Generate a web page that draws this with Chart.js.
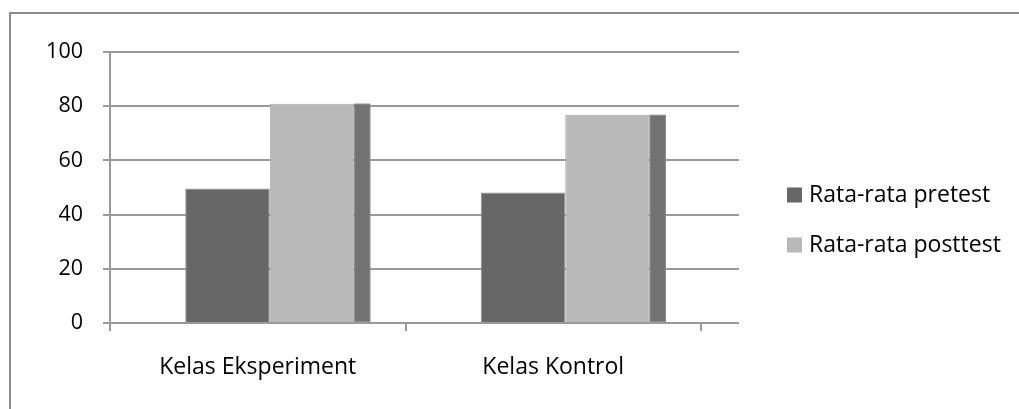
<!DOCTYPE html>
<html>
<head>
<meta charset="utf-8">
<script src="https://cdn.jsdelivr.net/npm/chart.js@4.4.1/dist/chart.umd.min.js"></script>
<style>
  html, body { margin: 0; padding: 0; background: #ffffff; overflow: hidden; }
  #wrap { position: relative; width: 1019px; height: 409px; }
  #frame {
    position: absolute; left: 9px; top: 12px; width: 1100px; height: 500px;
    border-left: 2px solid #8a8a8a; border-top: 2px solid #8a8a8a; box-sizing: border-box;
  }
  #c { position: absolute; left: 0; top: 0; }
</style>
</head>
<body>
<div id="wrap">
  <div id="frame"></div>
  <canvas id="c" width="1019" height="409"></canvas>
</div>
<script>
// Average scores per class
const categories = ['Kelas Eksperiment', 'Kelas Kontrol'];
const seriesNames = ['Rata-rata pretest', 'Rata-rata posttest'];
const pretestValues = [49.6, 48.2];
const posttestValues = [80.9, 76.8];
const yTickValues = [0, 20, 40, 60, 80, 100];

const FONT = '"Open Sans", Lato, sans-serif';
const LABEL_SIZE = 23;
const TICK_SIZE = 21.5;
const GRID = '#9a9a9a';
const DEPTH = 38;       // back-wall depth of the pseudo 3D columns
const SHIFT = 12;       // front faces sit a little right of the category centre
const SIDE = 16;        // visible side face of the front column

const fills = ['#676767', '#b9b9b9'];
const borders = ['#8e8e8e', '#a9a9a9'];

const depthPlugin = {
  id: 'depth',
  beforeDatasetsDraw(chart) {
    const { ctx, chartArea } = chart;
    const y = chart.scales.y;
    ctx.save();
    ctx.strokeStyle = GRID;
    ctx.lineWidth = 2;
    y.ticks.forEach(t => {
      const py = Math.round(y.getPixelForValue(t.value));
      ctx.beginPath();
      ctx.moveTo(chartArea.left, py);
      ctx.lineTo(chartArea.right + DEPTH, py);
      ctx.stroke();
    });
    ctx.restore();
    ctx.save();
    ctx.translate(SHIFT, 0);
  },
  afterDatasetsDraw(chart) {
    const { ctx } = chart;
    const last = chart.getDatasetMeta(chart.data.datasets.length - 1);
    last.data.forEach(el => {
      const p = el.getProps(['x', 'y', 'base', 'width'], true);
      const right = p.x + p.width / 2;
      ctx.fillStyle = '#727272';
      ctx.fillRect(right, p.y, SIDE, p.base - p.y);
      ctx.strokeStyle = '#8a8a8a';
      ctx.lineWidth = 1;
      ctx.strokeRect(right + 0.5, p.y + 0.5, SIDE - 1, p.base - p.y - 1);
    });
    ctx.restore();
  }
};

const legendPlugin = {
  id: 'sideLegend',
  afterDraw(chart) {
    const { ctx } = chart;
    const x0 = 787, y0 = 195, step = 50, box = 15;
    ctx.save();
    ctx.font = LABEL_SIZE + 'px ' + FONT;
    ctx.textBaseline = 'middle';
    ctx.textAlign = 'left';
    chart.data.datasets.forEach((ds, i) => {
      const cy = y0 + i * step;
      ctx.fillStyle = ds.backgroundColor;
      ctx.fillRect(x0, cy - box / 2, box, box);
      ctx.fillStyle = '#000000';
      ctx.fillText(ds.label, x0 + box + 7, cy);
    });
    ctx.restore();
  }
};

new Chart(document.getElementById('c'), {
  type: 'bar',
  data: {
    labels: categories,
    datasets: [
      { label: seriesNames[0], data: pretestValues, backgroundColor: fills[0], borderColor: borders[0], borderWidth: 1 },
      { label: seriesNames[1], data: posttestValues, backgroundColor: fills[1], borderColor: borders[1], borderWidth: 1 }
    ]
  },
  options: {
    responsive: false,
    animation: false,
    devicePixelRatio: 1,
    layout: { padding: { left: 0, top: 52, right: 318, bottom: 0 } },
    datasets: { bar: { categoryPercentage: 0.572, barPercentage: 1 } },
    plugins: { legend: { display: false }, tooltip: { enabled: false } },
    scales: {
      x: {
        offset: true,
        grid: { display: true, drawOnChartArea: false, drawTicks: true, tickLength: 8, offset: true, color: GRID, lineWidth: 2 },
        border: { display: false },
        ticks: { font: { family: FONT, size: LABEL_SIZE }, color: '#000000', padding: 23 },
        afterFit(s) { s.height = 86; }
      },
      y: {
        min: 0, max: 100,
        afterBuildTicks(s) { s.ticks = yTickValues.map(v => ({ value: v })); },
        grid: { display: true, drawOnChartArea: false, drawTicks: true, tickLength: 7, color: GRID, lineWidth: 2 },
        border: { display: true, color: GRID, width: 2 },
        ticks: { font: { family: FONT, size: TICK_SIZE }, color: '#000000', padding: 20 },
        afterFit(s) { s.width = 110; }
      }
    }
  },
  plugins: [depthPlugin, legendPlugin]
});
</script>
</body>
</html>
